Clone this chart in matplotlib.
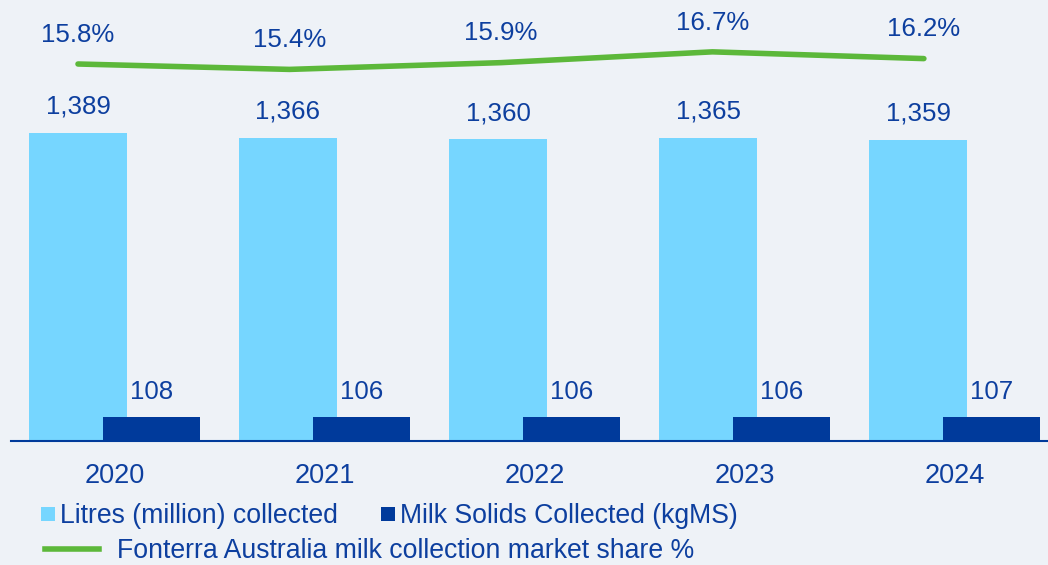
import matplotlib
matplotlib.use("Agg")
import matplotlib.pyplot as plt
import numpy as np
from matplotlib.patches import Rectangle
from matplotlib.lines import Line2D

years = ["2020", "2021", "2022", "2023", "2024"]
litres = [1389, 1366, 1360, 1365, 1359]
milk_solids = [108, 106, 106, 106, 107]
market_share = [15.8, 15.4, 15.9, 16.7, 16.2]

BG = "#eef2f7"
LIGHT = "#76d6ff"
DARK = "#003a9b"
GREEN = "#5cb83a"
TEXT = "#0d3f9f"

plt.rcParams["font.family"] = ["Liberation Sans", "DejaVu Sans"]

W, H = 1048, 565
fig = plt.figure(figsize=(W / 100, H / 100), dpi=100, facecolor=BG)

# axes occupies the area above the baseline
base_px = 441
left_px = 11
ax = fig.add_axes([left_px / W, 1 - base_px / H, (W - left_px) / W, base_px / H])
ax.set_facecolor(BG)

x = np.arange(len(years))
width = 0.462
off = 0.176

ax.bar(x - off, litres, width, color=LIGHT, zorder=2)
ax.bar(x + off, milk_solids, width, color=DARK, zorder=3)

ax.set_xlim(-0.495, 4.443)
ax.set_ylim(0, base_px / 0.2217)

for s in ["top", "left", "right"]:
    ax.spines[s].set_visible(False)
ax.spines["bottom"].set_color(DARK)
ax.spines["bottom"].set_linewidth(1.5)
ax.set_yticks([])
ax.set_xticks(x)
ax.set_xticklabels(years, fontsize=19.5, color=TEXT)
ax.tick_params(axis="x", length=0, pad=16)

for xi, v in zip(x, litres):
    ax.annotate(f"{v:,}", (xi - off, v), xytext=(0, 19), textcoords="offset points",
                ha="center", va="center", fontsize=18.6, color=TEXT)
for xi, v in zip(x, milk_solids):
    ax.annotate(f"{v:,}", (xi + off, v), xytext=(0, 18), textcoords="offset points",
                ha="center", va="center", fontsize=18.6, color=TEXT)

# market share line on its own scale
ax2 = ax.twinx()
ax2.set_axis_off()
px_per_unit = 13.5
top_val = 15.8 + 64 / px_per_unit
bot_val = 15.8 - (base_px - 64) / px_per_unit
ax2.set_ylim(bot_val, top_val)
ax2.set_xlim(ax.get_xlim())
line_x = x - off + 0.007 * x
ax2.plot(line_x, market_share, color=GREEN, lw=4, solid_capstyle="round", zorder=4)
for xi, v in zip(line_x, market_share):
    ax2.annotate(f"{v:.1f}%", (xi, v), xytext=(0, 21), textcoords="offset points",
                 ha="center", va="center", fontsize=18.6, color=TEXT)

# legend
def fx(px):
    return px / W

def fy(py):
    return 1 - py / H

fig.patches.append(Rectangle((fx(41), fy(521)), fx(14), 14 / H, transform=fig.transFigure,
                             facecolor=LIGHT, edgecolor="none"))
fig.text(fx(60), fy(516), "Litres (million) collected", fontsize=19.2, color=TEXT, va="center", ha="left")
fig.patches.append(Rectangle((fx(381), fy(521)), fx(14), 14 / H, transform=fig.transFigure,
                             facecolor=DARK, edgecolor="none"))
fig.text(fx(400), fy(516), "Milk Solids Collected (kgMS)", fontsize=19.2, color=TEXT, va="center", ha="left")
fig.lines.append(Line2D([fx(45), fx(99)], [fy(549), fy(549)], transform=fig.transFigure,
                        color=GREEN, lw=4))
fig.text(fx(117), fy(551), "Fonterra Australia milk collection market share %", fontsize=19.2,
         color=TEXT, va="center", ha="left")

fig.savefig("out.png", dpi=100, facecolor=BG)
